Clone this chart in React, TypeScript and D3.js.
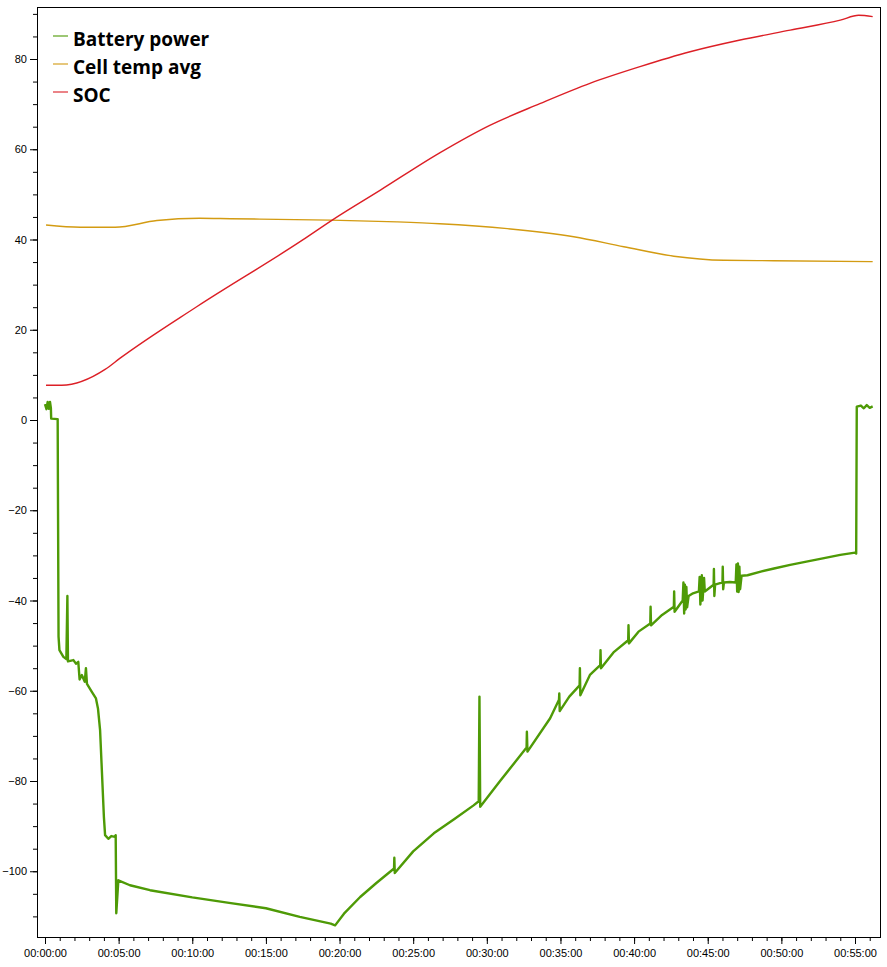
import React from "react";
import * as d3 from "d3";

type Pt = [number, number]; // [minutes, value]

const seriesNames = ["Battery power", "Cell temp avg", "SOC"];
const seriesColors = ["#4e9a06", "#d39b12", "#dc1f26"];

const batteryPower: Pt[] = [
    [0, 3.5], [0.1, 2.4], [0.18, 4.0], [0.26, 2.5], [0.34, 4.0], [0.4, 2.6], [0.42, 0.3], [0.86, 0.2],
    [0.92, -48], [0.98, -51], [1.25, -52.5], [1.45, -53], [1.52, -39], [1.56, -53.5],
    [1.93, -53.2], [2.1, -54], [2.26, -53.6], [2.35, -57.5], [2.5, -56.5], [2.7, -58],
    [2.78, -55], [2.85, -58.5], [3.17, -60.2], [3.46, -61.7], [3.6, -64], [3.74, -68.7],
    [4.0, -88], [4.08, -92], [4.3, -92.8], [4.5, -92.2], [4.76, -92.4], [4.8, -92],
    [4.84, -109.3], [4.98, -102], [5.77, -103.1], [7.13, -104.2], [10, -105.8], [12.5, -107], [15, -108.2],
    [17.3, -110.1], [19.4, -111.6], [19.7, -112], [20.3, -109.4], [21.4, -105.7], [22.5, -102.6],
    [23.7, -99.4], [23.72, -97], [23.75, -100.4], [25, -95.6], [26.4, -91.6], [27.8, -88.4], [29.1, -85.4],
    [29.45, -84.5], [29.5, -61.3], [29.55, -85.7], [30.9, -80], [32.7, -72.6],
    [32.72, -69.1], [32.76, -73.5], [34.3, -66.1], [34.9, -62], [34.92, -60.6], [34.95, -64.5],
    [35.6, -61.3], [36.3, -58.8], [36.32, -55], [36.35, -61], [37.0, -56.5], [37.7, -54.3], [37.72, -51], [37.75, -55],
    [38.6, -51.5], [39.6, -48.8], [39.62, -45.5], [39.65, -49.5], [40.3, -46.9], [41.1, -45.1], [41.12, -41.4], [41.15, -45.5],
    [41.9, -43.2], [42.7, -41.4], [42.72, -38], [42.75, -42.5],
    [43.3, -40], [43.35, -36], [43.4, -42.9], [43.45, -36.5], [43.5, -42], [43.55, -37], [43.6, -41.5], [43.7, -39],
    [44.0, -38.4], [44.4, -38], [44.45, -34.8], [44.5, -40.9], [44.6, -34.4], [44.65, -40], [44.75, -35], [44.8, -38],
    [45.4, -36.5], [45.42, -33], [45.45, -39], [45.5, -36.5], [46.0, -36], [46.02, -32.5], [46.05, -37.5], [46.1, -36],
    [46.5, -35.9], [46.9, -36], [46.95, -32], [47.0, -38], [47.05, -31.8], [47.1, -38.1], [47.15, -32.5], [47.2, -37.5],
    [47.3, -34.5], [47.7, -34.4], [48.6, -33.6], [49.5, -32.9], [50.6, -32.1], [51.7, -31.4], [52.9, -30.6], [54.0, -29.9], [55.0, -29.4],
    [55.08, -29.6], [55.12, 2.95], [55.4, 3.2], [55.6, 2.6], [55.8, 3.3], [56.0, 2.7], [56.2, 3.0],
];

const cellTempAvg: Pt[] = [
    [0.07, 43.2], [2.4, 42.7], [4.76, 42.7], [7.6, 44.2], [10.5, 44.7], [12.6, 44.6],
    [19.4, 44.3], [23.9, 43.9], [26.8, 43.5], [31.4, 42.4], [35.9, 40.6], [39.3, 38.4],
    [42.7, 36.3], [46.1, 35.4], [49.5, 35.3], [56.2, 35.1],
];

const soc: Pt[] = [
    [0.07, 7.7], [1.13, 7.7], [4.08, 11.2], [5.1, 13.7], [10.3, 25.1], [17.5, 39.9],
    [19.5, 44.3], [22.8, 51], [26.8, 59.2], [30.2, 65.3], [33.6, 70.1], [37.0, 74.6],
    [40.4, 78.3], [43.8, 81.6], [47.2, 84.2], [50.6, 86.4], [54.0, 88.6], [55.25, 89.7], [56.2, 89.4],
];

const xMajorTicks = d3.range(0, 60, 5);
const xMinorTicks = d3.range(0, 57, 1);
const yMajorTicks = d3.range(-100, 100, 20);
const yMinorTicks = d3.range(-110, 95, 5);

const W = 887, H = 967;
const L = 37, R = 880, T = 7, B = 937;

const fmtTime = (m: number) => {
    const h = Math.floor(m / 60), mm = Math.floor(m % 60), s = Math.round((m * 60) % 60);
    const p = (n: number) => String(n).padStart(2, "0");
    return `${p(h)}:${p(mm)}:${p(s)}`;
};

export default class App extends React.Component {
    private svgRef = React.createRef<SVGSVGElement>();

    public render() {
        return <div style={{ position: "absolute", left: 0, top: 0 }}>
            <svg ref={this.svgRef} width={W} height={H}></svg>
        </div>;
    }

    public componentDidMount() {
        this.draw();
    }

    private readonly draw = (): void => {
        const svg = d3.select(this.svgRef.current!);
        svg.selectAll("*").remove();
        svg.style("font-family", "'Open Sans', 'Noto Sans', sans-serif").style("background", "#fff");

        // pixel mapping: 0 min at x=45, 5 min = 73.6px; 0 at y=420, 80 at y=59
        const pxPerMin = 810 / 55;
        const x = d3.scaleLinear().domain([(L - 45) / pxPerMin, (R - 45) / pxPerMin]).range([L, R]);
        const pxPerUnit = 361 / 80;
        const y = d3.scaleLinear().domain([-(B - 420) / pxPerUnit, (420 - T) / pxPerUnit]).range([B, T]);

        // axes
        const xMinor = d3.axisBottom(x).tickValues(xMinorTicks).tickSize(4).tickFormat(() => "");
        const xMajor = d3.axisBottom(x).tickValues(xMajorTicks).tickSize(7).tickPadding(5).tickFormat(d => fmtTime(+d));
        const yMinor = d3.axisLeft(y).tickValues(yMinorTicks).tickSize(4).tickFormat(() => "");
        const yMajor = d3.axisLeft(y).tickValues(yMajorTicks).tickSize(7).tickPadding(3).tickFormat(d3.format("d"));

        const axes = [
            svg.append("g").attr("transform", `translate(0,${B})`).call(xMinor),
            svg.append("g").attr("transform", `translate(0,${B})`).call(xMajor),
            svg.append("g").attr("transform", `translate(${L},0)`).call(yMinor),
            svg.append("g").attr("transform", `translate(${L},0)`).call(yMajor),
        ];
        axes.forEach(g => {
            g.select(".domain").remove();
            g.selectAll("text").attr("font-size", 11).attr("fill", "#000").attr("font-family", null);
            g.selectAll("line").attr("stroke", "#000");
        });

        // frame
        svg.append("rect")
            .attr("x", L + 0.5).attr("y", T + 0.5)
            .attr("width", R - L).attr("height", B - T)
            .attr("fill", "none").attr("stroke", "#000");

        const line = d3.line<Pt>().x(d => x(d[0])).y(d => y(d[1]));
        const smooth = d3.line<Pt>().x(d => x(d[0])).y(d => y(d[1])).curve(d3.curveMonotoneX);

        // draw series
        svg.append("path").attr("d", smooth(cellTempAvg))
            .attr("fill", "none").attr("stroke", seriesColors[1]).attr("stroke-width", 1.4);
        svg.append("path").attr("d", smooth(soc))
            .attr("fill", "none").attr("stroke", seriesColors[2]).attr("stroke-width", 1.4);
        svg.append("path").attr("d", line(batteryPower))
            .attr("fill", "none").attr("stroke", seriesColors[0]).attr("stroke-width", 2.4)
            .attr("stroke-linejoin", "round");

        // legend
        const legend = svg.append("g").selectAll("g")
            .data(seriesNames)
            .enter()
            .append("g")
            .attr("transform", (d, i) => `translate(53,${36 + i * 28})`);
        legend.append("line")
            .attr("x1", 0).attr("x2", 15).attr("y1", 0).attr("y2", 0)
            .attr("stroke", (d, i) => seriesColors[i]).attr("stroke-width", 2).attr("opacity", 0.55);
        legend.append("text")
            .attr("x", 20).attr("y", 10)
            .attr("font-size", 19).attr("font-weight", "bold").attr("fill", "#000")
            .text(d => d);
    }
}
